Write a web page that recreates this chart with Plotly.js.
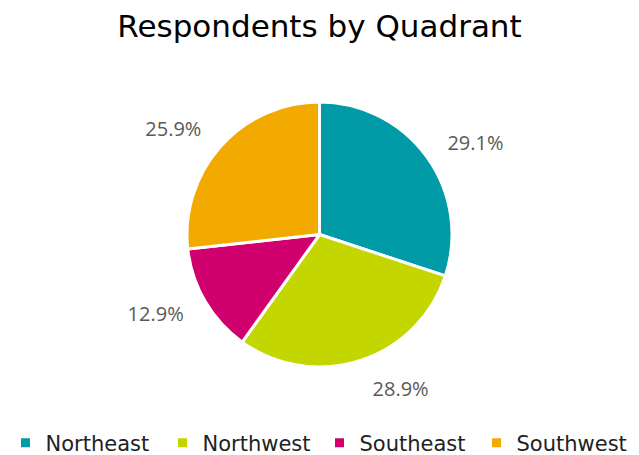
<!DOCTYPE html>
<html>
<head>
<meta charset="utf-8">
<script src="https://cdn.plot.ly/plotly-3.0.1.min.js"></script>
<style>html,body{margin:0;padding:0;background:#fff;}#chart{width:639px;height:455px;}</style>
</head>
<body>
<div id="chart"></div>
<script>
const categories = ["Northeast", "Northwest", "Southeast", "Southwest"];
const percentValues = [29.1, 28.9, 12.9, 25.9];
const sliceColors = ["#009BA6", "#C4D600", "#D0006F", "#F2A900"];
const valueLabels = percentValues.map(v => v.toFixed(1) + "%");

// Visible pie (no text)
const pieTrace = {
  type: "pie",
  labels: categories,
  values: percentValues,
  textinfo: "none",
  sort: false,
  direction: "clockwise",
  rotation: 0,
  automargin: false,
  marker: { colors: sliceColors, line: { color: "#ffffff", width: 3 } },
  domain: { x: [0.2926, 0.7074], y: [0.1934, 0.7758] },
  hoverinfo: "label+percent"
};

// Transparent, slightly larger pie that only carries the outside data labels
const labelTrace = {
  type: "pie",
  labels: categories,
  values: percentValues,
  text: valueLabels,
  textinfo: "text",
  textposition: "outside",
  sort: false,
  direction: "clockwise",
  rotation: 0,
  automargin: false,
  showlegend: false,
  marker: { colors: ["rgba(0,0,0,0)", "rgba(0,0,0,0)", "rgba(0,0,0,0)", "rgba(0,0,0,0)"], line: { width: 0 } },
  outsidetextfont: { family: "Open Sans, sans-serif", size: 20, color: "#595959" },
  domain: { x: [0.2660, 0.7340], y: [0.1560, 0.8132] },
  hoverinfo: "skip"
};

const layout = {
  width: 639, height: 455,
  margin: { l: 0, r: 0, t: 0, b: 0, autoexpand: false },
  paper_bgcolor: "#ffffff",
  showlegend: true,
  title: {
    text: "Respondents by Quadrant",
    font: { family: "DejaVu Sans, sans-serif", size: 31, color: "#000000" },
    x: 0.5, xanchor: "center", xref: "paper",
    y: 0.943, yanchor: "middle", yref: "container"
  },
  legend: {
    orientation: "h",
    x: 0.5, xanchor: "center",
    y: 0.026, yanchor: "middle",
    font: { family: "DejaVu Sans, sans-serif", size: 21, color: "#222222" },
    traceorder: "normal",
    entrywidth: 112
  }
};

Plotly.newPlot("chart", [labelTrace, pieTrace], layout, { staticPlot: true, displayModeBar: false });
</script>
</body>
</html>
